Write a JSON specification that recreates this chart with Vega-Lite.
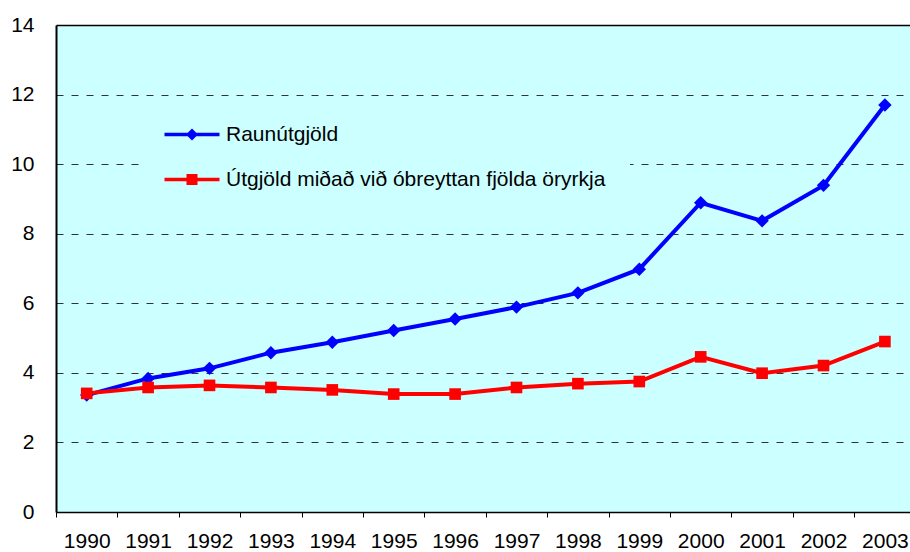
{
  "$schema": "https://vega.github.io/schema/vega-lite/v6.json",
  "width": 854,
  "height": 487,
  "autosize": {"type": "none"},
  "padding": {"left": 56, "top": 25, "right": 0, "bottom": 40},
  "background": "white",
  "config": {
    "view": {"fill": "#ccffff", "stroke": null},
    "font": "Liberation Sans"
  },
  "data": {
    "values": [
      {"year": "1990", "series": "Raunútgjöld", "value": 3.36},
      {"year": "1991", "series": "Raunútgjöld", "value": 3.84},
      {"year": "1992", "series": "Raunútgjöld", "value": 4.13},
      {"year": "1993", "series": "Raunútgjöld", "value": 4.58},
      {"year": "1994", "series": "Raunútgjöld", "value": 4.88},
      {"year": "1995", "series": "Raunútgjöld", "value": 5.22},
      {"year": "1996", "series": "Raunútgjöld", "value": 5.55},
      {"year": "1997", "series": "Raunútgjöld", "value": 5.89},
      {"year": "1998", "series": "Raunútgjöld", "value": 6.30},
      {"year": "1999", "series": "Raunútgjöld", "value": 6.98},
      {"year": "2000", "series": "Raunútgjöld", "value": 8.89},
      {"year": "2001", "series": "Raunútgjöld", "value": 8.37},
      {"year": "2002", "series": "Raunútgjöld", "value": 9.39},
      {"year": "2003", "series": "Raunútgjöld", "value": 11.70},
      {"year": "1990", "series": "Útgjöld miðað við óbreyttan fjölda öryrkja", "value": 3.41},
      {"year": "1991", "series": "Útgjöld miðað við óbreyttan fjölda öryrkja", "value": 3.58},
      {"year": "1992", "series": "Útgjöld miðað við óbreyttan fjölda öryrkja", "value": 3.64},
      {"year": "1993", "series": "Útgjöld miðað við óbreyttan fjölda öryrkja", "value": 3.58},
      {"year": "1994", "series": "Útgjöld miðað við óbreyttan fjölda öryrkja", "value": 3.51},
      {"year": "1995", "series": "Útgjöld miðað við óbreyttan fjölda öryrkja", "value": 3.39},
      {"year": "1996", "series": "Útgjöld miðað við óbreyttan fjölda öryrkja", "value": 3.39},
      {"year": "1997", "series": "Útgjöld miðað við óbreyttan fjölda öryrkja", "value": 3.58},
      {"year": "1998", "series": "Útgjöld miðað við óbreyttan fjölda öryrkja", "value": 3.69},
      {"year": "1999", "series": "Útgjöld miðað við óbreyttan fjölda öryrkja", "value": 3.75},
      {"year": "2000", "series": "Útgjöld miðað við óbreyttan fjölda öryrkja", "value": 4.46},
      {"year": "2001", "series": "Útgjöld miðað við óbreyttan fjölda öryrkja", "value": 3.99},
      {"year": "2002", "series": "Útgjöld miðað við óbreyttan fjölda öryrkja", "value": 4.21},
      {"year": "2003", "series": "Útgjöld miðað við óbreyttan fjölda öryrkja", "value": 4.90}
    ]
  },
  "encoding": {
    "x": {
      "field": "year",
      "type": "ordinal",
      "scale": {"type": "band", "paddingInner": 0, "paddingOuter": 0, "range": [0, 859.6]},
      "axis": {
        "title": null,
        "labelAngle": 0,
        "labelFont": "Liberation Sans",
        "labelFontSize": 21,
        "labelColor": "#000",
        "labelPadding": 13,
        "tickBand": "extent",
        "ticks": true,
        "tickSize": 5,
        "tickColor": "#000",
        "tickWidth": 1,
        "domainColor": "#000",
        "domainWidth": 1.5,
        "grid": false
      }
    },
    "y": {
      "field": "value",
      "type": "quantitative",
      "scale": {"domain": [0, 14], "nice": false},
      "axis": {
        "title": null,
        "values": [0, 2, 4, 6, 8, 10, 12, 14],
        "labelFont": "Liberation Sans",
        "labelFontSize": 21,
        "labelColor": "#000",
        "labelPadding": 22,
        "ticks": false,
        "domainColor": "#000",
        "domainWidth": 2,
        "grid": true,
        "gridColor": {"condition": {"test": "datum.value === 14", "value": "#000"}, "value": "#333"},
        "gridDash": {"condition": {"test": "datum.value === 14", "value": []}, "value": [7, 8]},
        "gridWidth": {"condition": {"test": "datum.value === 14", "value": 1.5}, "value": 1}
      }
    },
    "color": {
      "field": "series",
      "type": "nominal",
      "scale": {
        "domain": ["Raunútgjöld", "Útgjöld miðað við óbreyttan fjölda öryrkja"],
        "range": ["#0000ff", "#ff0000"]
      },
      "legend": {
        "orient": "none",
        "legendX": 84,
        "legendY": 75,
        "title": null,
        "fillColor": "#ccffff",
        "padding": 24,
        "symbolSize": 400,
        "symbolStrokeWidth": 0,
        "symbolOpacity": 1,
        "labelFont": "Liberation Sans",
        "labelFontSize": 21,
        "labelColor": "#000",
        "labelOffset": 41,
        "labelLimit": 0,
        "rowPadding": 23
      }
    }
  },
  "layer": [
    {
      "mark": {"type": "line", "strokeWidth": 4}
    },
    {
      "transform": [{"filter": "datum.series === 'Raunútgjöld'"}],
      "mark": {"type": "point", "filled": true, "opacity": 1, "shape": "diamond", "size": 180}
    },
    {
      "transform": [{"filter": "datum.series !== 'Raunútgjöld'"}],
      "mark": {"type": "point", "filled": true, "opacity": 1, "shape": "square", "size": 135}
    },
    {
      "transform": [{"filter": "false"}],
      "mark": {"type": "point", "filled": true, "opacity": 1},
      "encoding": {
        "shape": {
          "field": "series",
          "type": "nominal",
          "scale": {
            "domain": ["Raunútgjöld", "Útgjöld miðað við óbreyttan fjölda öryrkja"],
            "range": [
              "M-1,-0.17L4.5,-0.17L4.5,0.17L-1,0.17Z M1.75,-0.6L2.35,0L1.75,0.6L1.15,0Z",
              "M-1,-0.17L4.5,-0.17L4.5,0.17L-1,0.17Z M1.2,-0.55L2.3,-0.55L2.3,0.55L1.2,0.55Z"
            ]
          },
          "legend": {
            "orient": "none",
            "legendX": 84,
            "legendY": 75,
            "title": null,
            "fillColor": "#ccffff",
            "padding": 24,
            "symbolSize": 400,
            "symbolStrokeWidth": 0,
            "symbolOpacity": 1,
            "labelFont": "Liberation Sans",
            "labelFontSize": 21,
            "labelColor": "#000",
            "labelOffset": 41,
            "labelLimit": 0,
            "rowPadding": 23
          }
        }
      }
    }
  ]
}
